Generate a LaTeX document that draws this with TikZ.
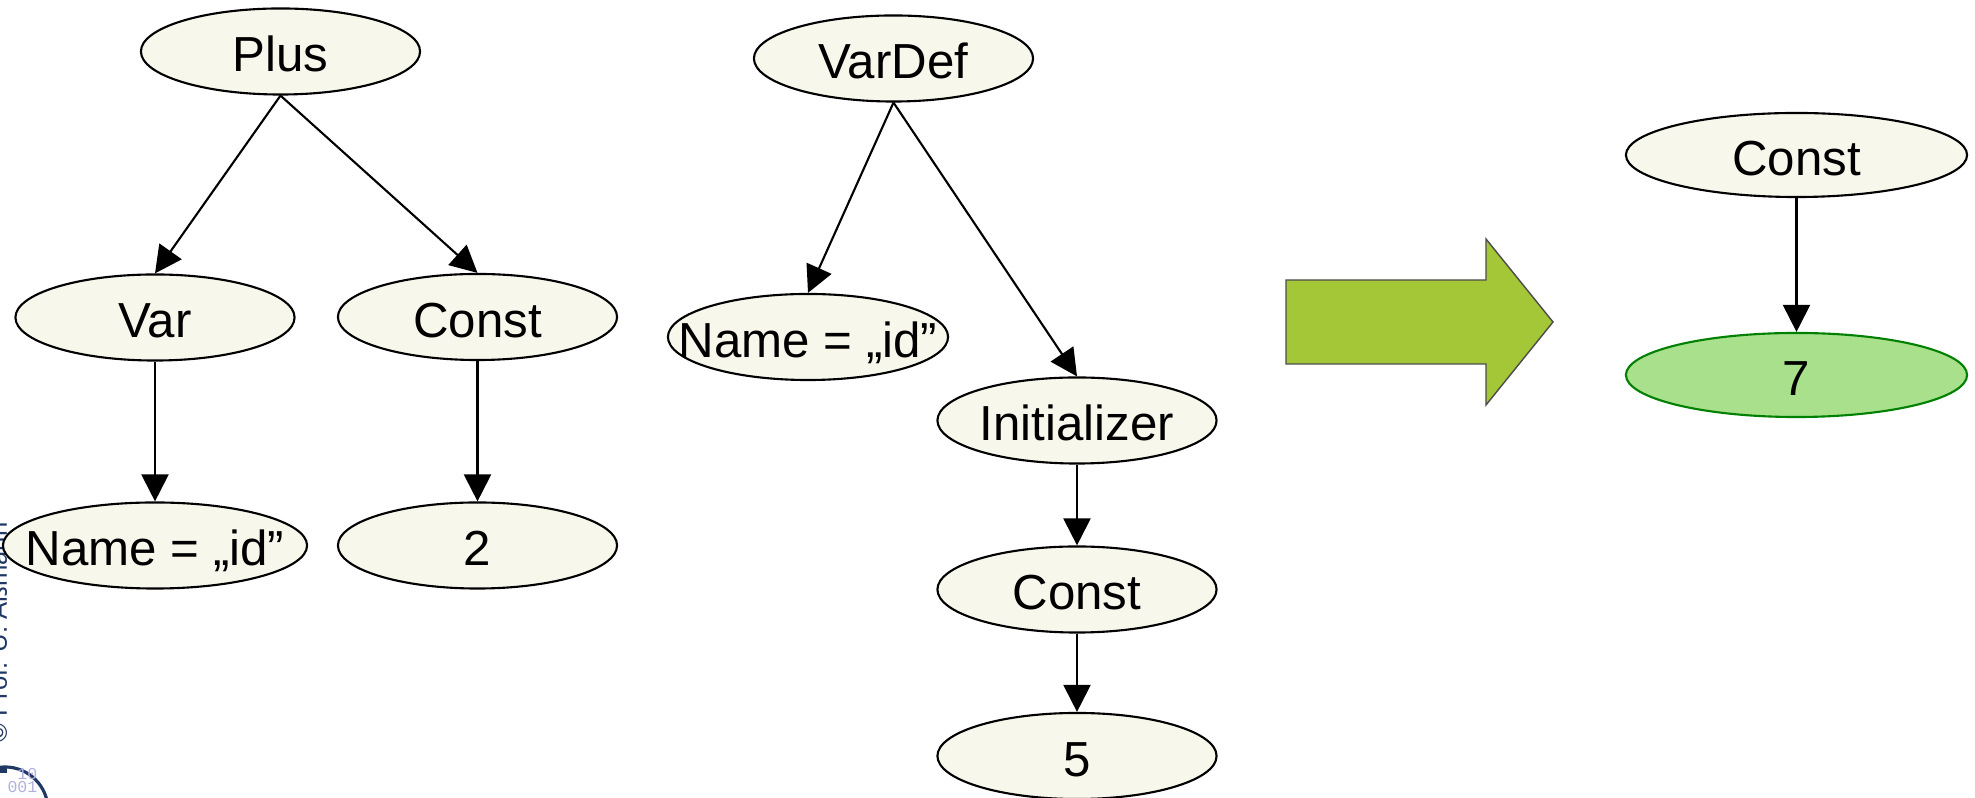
\documentclass[tikz,border=0pt]{standalone}
\usepackage{fontspec}
\setmainfont{Liberation Sans}
\newfontfamily\bitfont{Liberation Mono}
\usetikzlibrary{shapes.geometric, arrows.meta}

\definecolor{nodefill}{RGB}{247,247,235}
\definecolor{resultfill}{RGB}{168,224,140}
\definecolor{resultdraw}{RGB}{0,128,0}
\definecolor{arrowgreen}{RGB}{163,199,55}
\definecolor{markblue}{RGB}{31,56,100}
\definecolor{markbits}{RGB}{176,176,224}

\tikzset{
    astnode/.style    = {ellipse,
                         draw = black,
                         line width = 0.6pt,
                         fill = nodefill,
                         text = black,
                         inner sep = 0pt,
                         text height = 11.4pt,
                         text depth = 0pt,
                         minimum width = 2.79cm,
                         minimum height = 0.86cm,
                         font = \fontsize{14pt}{16pt}\selectfont,
                         execute at begin node = {\hbox to 0pt\bgroup\hss},
                         execute at end node = {\hss\egroup}},
    resultnode/.style = {astnode, draw = resultdraw, fill = resultfill},
    treeedge/.style   = {-{Triangle[length=0.27cm, width=0.27cm]}, line width = 0.6pt}
}

\begin{document}
\begin{tikzpicture}[x=0.01cm, y=-0.01cm]
        \useasboundingbox (0,0) rectangle (1975,798);

        % ---------------------------------------------------------------------------
        % Slide watermark (left edge)
        % ---------------------------------------------------------------------------
        \node[  rotate = 90,
                anchor = base west,
                inner sep = 0pt,
                text = markblue,
                font = \fontsize{7.3pt}{8pt}\selectfont]  (Copyright) at (7,743) {© Prof. U. Aßmann};

        \draw[markblue, line width = 0.9pt] (5,810) circle[radius = 0.43cm];
        \fill[markblue] (0,766) rectangle (7,773);
        \node[anchor = base east, inner sep = 0pt, text = markbits,
              font = \bitfont\fontsize{4.7pt}{5pt}\selectfont]  (BitsA) at (38,780) {10};
        \node[anchor = base east, inner sep = 0pt, text = markbits,
              font = \bitfont\fontsize{4.7pt}{5pt}\selectfont]  (BitsB) at (38,793) {001};

        % ---------------------------------------------------------------------------
        % Draw nodes
        % ---------------------------------------------------------------------------
        \node[astnode]                          (Plus)        at (280.5,51.5)  {Plus};
        \node[astnode]                          (Var)         at (155,317.5)   {Var};
        \node[astnode]                          (ConstL)      at (477.5,317)   {Const};
        \node[astnode, minimum width = 3.04cm]  (NameL)       at (155,545.5)   {Name = „id”};
        \node[astnode]                          (Two)         at (477.5,545.5) {2};

        \node[astnode]                          (VarDef)      at (893.5,58.5)  {VarDef};
        \node[astnode, minimum width = 2.80cm]  (NameM)       at (808,337)     {Name = „id”};
        \node[astnode]                          (Initializer) at (1077,420.5)  {Initializer};
        \node[astnode]                          (ConstM)      at (1077,589.5)  {Const};
        \node[astnode]                          (Five)        at (1077,756)    {5};

        \node[astnode, minimum width = 3.41cm, minimum height = 0.84cm]     (ConstR) at (1796.5,155) {Const};
        \node[resultnode, minimum width = 3.41cm, minimum height = 0.84cm]  (Seven)  at (1796.5,375) {7};

        % ---------------------------------------------------------------------------
        % Draw arrows
        % ---------------------------------------------------------------------------
        \draw [treeedge]    (Plus.south)         -- (Var.north);           % Plus -> Var
        \draw [treeedge]    (Plus.south)         -- (ConstL.north);        % Plus -> Const
        \draw [treeedge]    (Var.south)          -- (NameL.north);         % Var -> Name
        \draw [treeedge]    (ConstL.south)       -- (Two.north);           % Const -> 2

        \draw [treeedge]    (VarDef.south)       -- (NameM.north);         % VarDef -> Name
        \draw [treeedge]    (VarDef.south)       -- (Initializer.north);   % VarDef -> Initializer
        \draw [treeedge]    (Initializer.south)  -- (ConstM.north);        % Initializer -> Const
        \draw [treeedge]    (ConstM.south)       -- (Five.north);          % Const -> 5

        \draw [treeedge]    (ConstR.south)       -- (Seven.north);         % Const -> 7

        % folding step
        \draw [fill = arrowgreen, draw = black!70, line width = 0.4pt]
              (1286,280) -- (1486,280) -- (1486,239) -- (1553,322)
              -- (1486,405) -- (1486,364) -- (1286,364) -- cycle;

\end{tikzpicture}
\end{document}
